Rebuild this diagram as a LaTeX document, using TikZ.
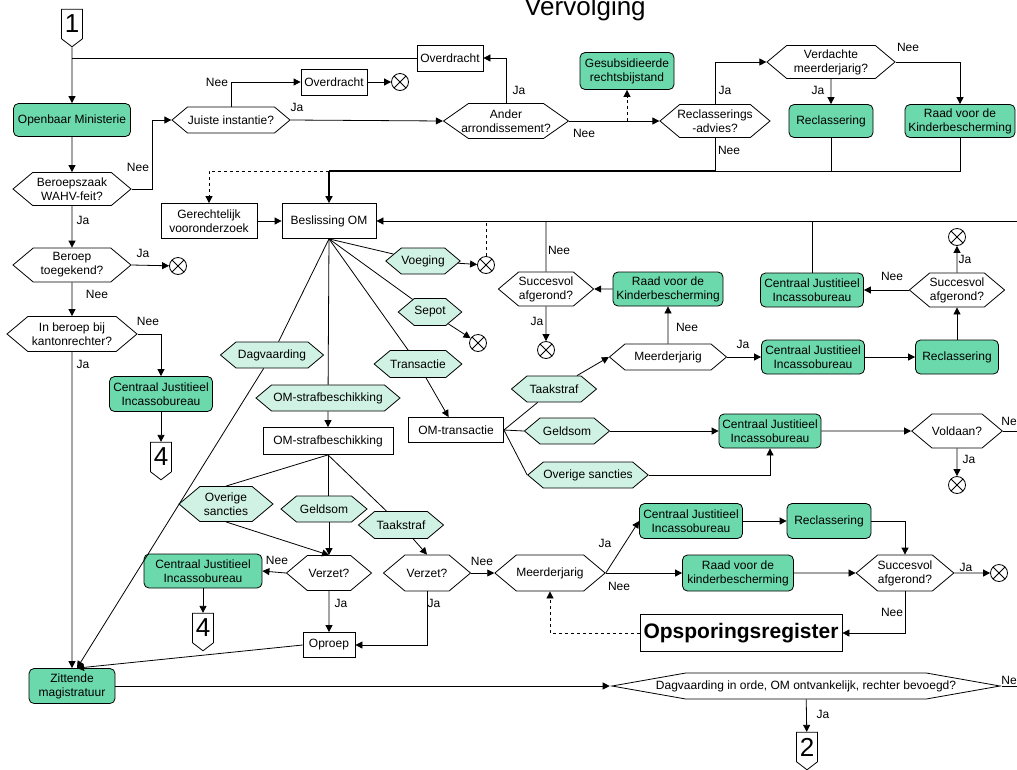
\documentclass[tikz,border=0pt]{standalone}
\usepackage{fontspec}
\setmainfont{Liberation Sans}
\usetikzlibrary{arrows.meta,shapes.symbols,calc}
\definecolor{orggreen}{RGB}{108,217,172}
\definecolor{pickgreen}{RGB}{208,242,228}
\tikzset{
  sz/.style 2 args={minimum width=#1, minimum height=#2},
  org/.style={rectangle, rounded corners=5pt, draw, fill=orggreen, align=center, inner sep=1pt},
  act/.style={rectangle, draw, fill=white, align=center, inner sep=1pt},
  ask/.style={signal, signal to=east and west, signal pointer angle=80, draw, fill=white, align=center, inner xsep=0pt, inner ysep=1pt},
  pick/.style={ask, fill=pickgreen},
  page/.style={signal, signal to=south, signal pointer angle=105, draw, fill=white, inner sep=0pt, minimum width=21, minimum height=35, font=\fontsize{26}{26}\selectfont},
  endx/.style={circle, draw, fill=white, minimum size=17, inner sep=0pt,
    path picture={\draw (path picture bounding box.north west) -- (path picture bounding box.south east)
      (path picture bounding box.north east) -- (path picture bounding box.south west);}},
  lbl/.style={inner sep=0pt}
}
\begin{document}
\begin{tikzpicture}[x=1pt, y=-1pt, >={Triangle[length=7pt,width=7pt]}, line width=0.8pt,
  font=\fontsize{12}{14}\selectfont]
\useasboundingbox (0,0) rectangle (1017,769);

\node[anchor=base, font=\fontsize{26}{26}\selectfont] (title) at (585,15) {Vervolging};

% top row
\node[page] (c1) at (72,24) {1};
\node[org, sz={117}{33}] (om) at (72,120) {Openbaar Ministerie};
\node[ask, sz={118}{33}] (bz) at (72,189) {Beroepszaak\\WAHV-feit?};
\node[ask, sz={118}{26}] (juist) at (231,120) {Juiste instantie?};
\node[act, sz={66}{26}] (ovd1) at (450,58) {Overdracht};
\node[act, sz={66}{26}] (ovd2) at (334,82) {Overdracht};
\node[endx] (x1) at (400,82) {};
\node[ask, sz={125}{35}, signal pointer angle=70, inner xsep=-10pt] (ander) at (506,121) {Ander\\arrondissement?};
\node[org, sz={94}{37}] (gesub) at (627,71) {Gesubsidieerde\\rechtsbijstand};
\node[ask, sz={110}{33}, inner xsep=-4pt] (radv) at (715,121) {Reclasserings\\-advies?};
\node[ask, sz={128}{33}, inner xsep=-4pt] (verd) at (831,62) {Verdachte\\meerderjarig?};
\node[org, sz={84}{33}] (recl1) at (831,121) {Reclassering};
\node[org, sz={110}{33}] (raad1) at (960,121) {Raad voor de\\Kinderbescherming};
\coordinate (mrg) at (329,171);

% left column
\node[ask, sz={118}{34}] (ber) at (72,265) {Beroep\\toegekend?};
\node[endx] (x2) at (178,266) {};
\node[ask, sz={130}{35}] (kant) at (72,334) {In beroep bij\\kantonrechter?};
\node[org, sz={103}{35}] (cj1) at (161,394) {Centraal Justitieel\\Incassobureau};
\node[page] (c4a) at (161,457) {4};
\node[org, sz={86}{35}] (zm) at (72,686) {Zittende\\magistratuur};
\coordinate (zin) at ($(zm.north)+(5,0)$);

% beslissing OM
\node[act, sz={96}{35}] (gv) at (209,221) {Gerechtelijk\\vooronderzoek};
\node[act, sz={94}{35}] (bom) at (329,221) {Beslissing OM};
\coordinate (redge) at (1017,221);
\node[pick, sz={60}{26}] (voeg) at (423,261) {Voeging};
\node[endx] (x3) at (486,265) {};
\node[pick, sz={59}{27}] (sepot) at (430,312) {Sepot};
\node[endx] (x4) at (478,343) {};
\node[pick, sz={86}{27}] (trans) at (418,364) {Transactie};
\node[act, sz={95}{25}] (omtr) at (456,430) {OM-transactie};
\node[pick, sz={103}{26}] (dagv) at (272,355) {Dagvaarding};
\node[pick, sz={144}{26}] (osbk) at (328,398) {OM-strafbeschikking};
\node[act, sz={130}{27}] (osb) at (328,441) {OM-strafbeschikking};
\node[pick, sz={94}{35}] (ovs1) at (226,504) {Overige\\sancties};
\node[pick, sz={86}{26}] (gs1) at (324,509) {Geldsom};
\node[pick, sz={85}{27}] (ts1) at (401,525) {Taakstraf};
\node[ask, sz={85}{35}] (vz1) at (329,573) {Verzet?};
\node[org, sz={118}{34}] (cj2) at (203,571) {Centraal Justitieel\\Incassobureau};
\node[page] (c4b) at (203,628) {4};
\node[act, sz={52}{25}] (op) at (329,645) {Oproep};
\node[ask, sz={87}{36}] (vz2) at (427,573) {Verzet?};
\node[ask, sz={95}{36}] (meerd2) at (550,573) {Meerderjarig};
\node[org, sz={103}{35}] (cj3) at (691,521) {Centraal Justitieel\\Incassobureau};
\node[org, sz={84}{35}] (recl2) at (829,521) {Reclassering};
\node[org, sz={111}{36}] (raad2) at (738,573) {Raad voor de\\kinderbescherming};
\node[ask, sz={85}{36}] (succ3) at (905,573) {Succesvol\\afgerond?};
\node[endx] (x8) at (999,573) {};
\node[act, sz={202}{37}, inner sep=0pt, font=\fontsize{21}{21}\selectfont\bfseries] (ops) at (741,633) {Opsporingsregister};

% OM-transactie
\node[pick, sz={85}{26}] (ts2) at (554,389) {Taakstraf};
\node[pick, sz={85}{26}] (gs2) at (567,431) {Geldsom};
\node[pick, sz={119}{26}] (ovs2) at (588,475) {Overige sancties};
\node[ask, sz={117}{26}] (meerd1) at (668,357) {Meerderjarig};
\node[org, sz={110}{34}] (raad3) at (668,289) {Raad voor de\\Kinderbescherming};
\node[ask, sz={87}{34}] (succ1) at (546,289) {Succesvol\\afgerond?};
\node[endx] (x5) at (546,350) {};
\node[org, sz={103}{34}] (cj4) at (813,357) {Centraal Justitieel\\Incassobureau};
\node[org, sz={83}{34}] (recl3) at (957,357) {Reclassering};
\node[ask, sz={86}{34}] (succ2) at (957,290) {Succesvol\\afgerond?};
\node[endx] (x6) at (957,237) {};
\node[org, sz={103}{34}] (cj6) at (812,290) {Centraal Justitieel\\Incassobureau};
\node[org, sz={102}{34}] (cj5) at (770,431) {Centraal Justitieel\\Incassobureau};
\node[ask, sz={86}{34}] (vold) at (957,431) {Voldaan?};
\node[endx] (x7) at (957,485) {};
\coordinate (vedge) at (1017,431);

% bottom
\node[ask, sz={388}{26}, signal pointer angle=20, inner xsep=-32pt] (dag) at (806,686) {Dagvaarding in orde, OM ontvankelijk, rechter bevoegd?};
\node[page] (c2) at (807,747) {2};
\coordinate (dedge) at (1017,686);

% labels
\foreach \n/\x/\y/\t in {a/138/167/Nee, b/217/82/Nee, c/297/107/Ja, d/83/220/Ja, e/519/90/Ja,
  f/584/133/Nee, g/725/90/Ja, h/818/90/Ja, i/908/47/Nee, j/729/150/Nee, k/143/253/Ja,
  l/97/294/Nee, m/148/321/Nee, n/83/364/Ja, o/559/250/Nee, p/537/321/Ja, q/687/327/Nee,
  r/743/344/Ja, s/892/276/Nee, t/965/259/Ja, u/969/459/Ja, v/277/560/Nee, w/341/603/Ja,
  y/434/603/Ja, z/482/561/Nee, aa/605/543/Ja, ab/619/586/Nee, ac/966/567/Ja, ad/892/612/Nee,
  ae/823/714/Ja}
  \node[lbl] (lb\n) at (\x,\y) {\t};
\node[lbl, anchor=west] (lbaf) at (1001,421) {Nee};
\node[lbl, anchor=west] (lbag) at (1001,680) {Nee};

% connectors
\draw[->] (c1) -- (om);
\draw (ovd1) -- (ovd1 -| c1);
\draw[->] (om) -- (bz);
\draw[->] (bz.east) -- ++(21,0) |- (juist.west);
\draw[->] (juist.north) |- (ovd2.west);
\draw[->] (ovd2) -- (x1);
\draw[->] (juist.east) -- (ander.west);
\draw[->] (ander.north) |- (ovd1.east);
\draw[->] (ander.east) -- (radv.west);
\draw[dashed,->] (gesub.south |- ander.east) -- (gesub.south);
\draw[->] (radv.north) |- (verd.west);
\draw[->] (verd) -- (recl1);
\draw[->] (verd.east) -| (raad1.north);
\draw (raad1.south) |- (radv |- mrg);
\draw (recl1) -- (recl1 |- mrg);
\draw (radv) -- (radv |- mrg);
\draw[line width=1.6pt] (mrg) -- (radv |- mrg);
\draw[->, line width=1.6pt] (mrg) -- (bom);
\draw[dashed,->] (mrg) -| (gv.north);

\draw[->] (bz) -- (ber);
\draw[->] (ber.east) -- (x2);
\draw[->] (ber) -- (kant);
\draw[->] (kant.east) -| (cj1.north);
\draw[->] (cj1) -- (c4a);
\draw[->] (kant) -- (zm);

\draw[->] (gv) -- (bom);
\draw[->] (redge) -- (bom.east);
\draw (succ1) -- (succ1 |- redge);
\draw (cj6) -- (cj6 |- redge);
\draw[dashed] (x3) -- (x3 |- redge);
\draw (bom.south) -- (voeg);
\draw[->] (voeg) -- (x3);
\draw (bom.south) -- (sepot);
\draw[->] (sepot) -- (x4);
\draw (bom.south) -- (trans);
\draw[->] (trans) -- (omtr);
\draw (bom.south) -- (dagv);
\draw[->] (dagv) -- (zin);
\draw (bom.south) -- (osbk);
\draw[->] (osbk) -- (osb);
\draw (osb.south) -- (ovs1.north);
\draw (osb.south) -- (osb.south |- gs1.north);
\draw (osb.south) -- (ts1);
\draw[->] (ovs1.south) -- (vz1.north);
\draw[->] (gs1.south -| vz1) -- (vz1.north);
\draw[->] (ts1) -- (vz2.north);
\draw[->] (vz1.west) -- (cj2.east);
\draw[->] (cj2) -- (c4b);
\draw[->] (vz1) -- (op);
\draw[->] (vz2.south) |- (op.east);
\draw[->] (op.west) -- (zin);
\draw[->] (vz2.east) -- (meerd2.west);
\draw[->] (meerd2.east) -- (cj3.west);
\draw[->] (meerd2.east) -- (raad2.west);
\draw[->] (cj3) -- (recl2);
\draw[->] (recl2.east) -| (succ3.north);
\draw[->] (raad2) -- (succ3);
\draw[->] (succ3) -- (x8);
\draw[->] (succ3.south) |- (ops.east);
\draw[dashed,->] (ops.west) -| (meerd2.south);

\draw (omtr.east) -- (ts2);
\draw (omtr.east) -- (gs2.west);
\draw (omtr.east) -- (ovs2.west);
\draw[->] (ts2) -- (meerd1.west);
\draw[->] (gs2.east) -- (cj5.west);
\draw[->] (ovs2.east) -| (cj5.south);
\draw[->] (cj5) -- (vold);
\draw (vold.east) -- (vedge);
\draw[->] (vold) -- (x7);
\draw[->] (meerd1) -- (raad3);
\draw[->] (raad3) -- (succ1);
\draw[->] (succ1) -- (x5);
\draw[->] (meerd1.east) -- (cj4.west);
\draw[->] (cj4) -- (recl3);
\draw[->] (recl3) -- (succ2);
\draw[->] (succ2) -- (x6);
\draw[->] (succ2) -- (cj6);

\draw[->] (zm.east) -- (dag.west);
\draw (dag.east) -- (dedge);
\draw[->] (dag) -- (c2);
\end{tikzpicture}
\end{document}
